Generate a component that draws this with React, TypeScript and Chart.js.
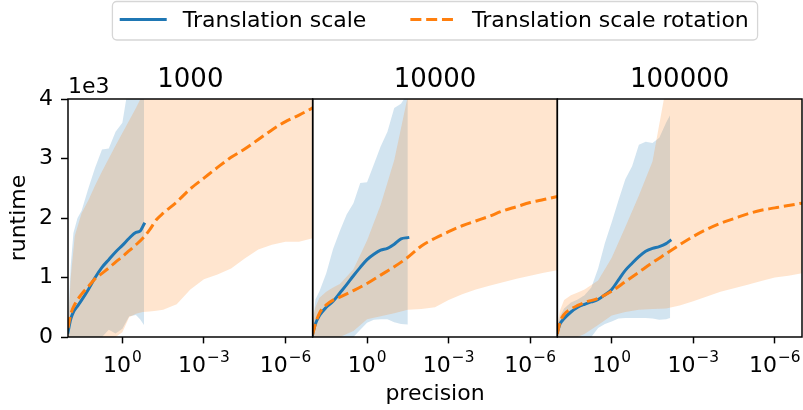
import React, { useEffect, useRef } from 'react';
import { Chart, registerables } from 'chart.js';

Chart.register(...registerables);

const FONT = 'DejaVu Sans';
const BLUE = '#1f77b4';
const ORANGE = '#ff7f0e';
const BLUE_BAND = 'rgba(31,119,180,0.2)';
const ORANGE_BAND = 'rgba(255,127,14,0.2)';

const panelTitles = ['1000', '10000', '100000'];
const seriesNames = ['Translation scale', 'Translation scale rotation'];
const yTickValues = [0, 1, 2, 3, 4];
const yRange = [0, 4];
const xTickExponents = [0, -3, -6];
const xExponentRange = [-7, 2];
const yAxisLabel = 'runtime';
const xAxisLabel = 'precision';
const yOffsetLabel = '1e3';

// ---- panel "1000" ----
const ts1LogPrecision = [2, 1.9, 1.8, 1.65, 1.5, 1.25, 1, 0.75, 0.5, 0.25, 0, -0.25, -0.5, -0.65, -0.8];
const ts1Mean = [0.08, 0.3, 0.42, 0.52, 0.62, 0.8, 1.0, 1.17, 1.3, 1.43, 1.54, 1.66, 1.76, 1.78, 1.9];
const ts1Low = [0, 0, 0, 0, 0, 0, 0, 0, 0.12, 0.06, 0.14, 0.35, 0.37, 0.3, 0.2];
const ts1High = [0.2, 1.2, 1.75, 2.0, 2.12, 2.5, 2.85, 3.15, 3.17, 3.45, 3.6, 4.3, 4.6, 4.7, 4.8];

const tsr1LogPrecision = [2, 1.9, 1.75, 1.5, 1.25, 1, 0.75, 0.5, 0.25, 0, -0.25, -0.5, -0.75, -1, -1.25, -1.5, -2, -2.5, -3, -3.5, -4, -4.5, -5, -5.5, -6, -6.5, -7];
const tsr1Mean = [0.15, 0.38, 0.55, 0.72, 0.85, 0.98, 1.07, 1.16, 1.26, 1.35, 1.45, 1.55, 1.66, 1.8, 1.97, 2.08, 2.27, 2.49, 2.67, 2.85, 3.02, 3.16, 3.32, 3.48, 3.62, 3.73, 3.85];
const tsr1Low = [0, 0, 0, 0, 0, 0, 0, 0, 0, 0.08, 0.33, 0.39, 0.42, 0.43, 0.44, 0.46, 0.55, 0.8, 0.97, 1.05, 1.15, 1.32, 1.47, 1.55, 1.6, 1.6, 1.66];
const tsr1High = [0.15, 1.0, 1.7, 2.08, 2.3, 2.55, 2.78, 3.0, 3.22, 3.43, 3.64, 3.85, 4.08, 4.3, 4.5, 4.6, 4.8, 5.0, 5.2, 5.4, 5.6, 5.8, 6.0, 6.2, 6.3, 6.4, 6.5];

// ---- panel "10000" ----
const ts2LogPrecision = [2, 1.9, 1.75, 1.5, 1.25, 1, 0.75, 0.5, 0.25, 0, -0.25, -0.5, -0.75, -1, -1.25, -1.5];
const ts2Mean = [0.05, 0.22, 0.36, 0.5, 0.6, 0.74, 0.88, 1.03, 1.17, 1.3, 1.39, 1.46, 1.49, 1.56, 1.65, 1.67];
const ts2Low = [0, 0, 0, 0, 0, 0, 0, 0, 0.12, 0.24, 0.29, 0.3, 0.3, 0.25, 0.22, 0.21];
const ts2High = [0.2, 0.63, 0.77, 1.07, 1.48, 1.78, 2.06, 2.25, 2.59, 2.6, 2.9, 3.2, 3.45, 3.85, 3.92, 4.1];

const tsr2LogPrecision = [2, 1.9, 1.75, 1.5, 1.25, 1, 0.5, 0, -0.5, -1, -1.5, -2, -2.5, -3, -3.5, -4, -4.5, -5, -5.5, -6, -6.5, -7];
const tsr2Mean = [0.04, 0.22, 0.4, 0.54, 0.62, 0.67, 0.78, 0.9, 1.04, 1.18, 1.34, 1.53, 1.66, 1.77, 1.87, 1.95, 2.03, 2.12, 2.19, 2.26, 2.31, 2.36];
const tsr2Low = [0, 0, 0, 0, 0, 0, 0.1, 0.3, 0.35, 0.4, 0.46, 0.47, 0.5, 0.62, 0.72, 0.8, 0.86, 0.92, 0.98, 1.03, 1.08, 1.12];
const tsr2High = [0.3, 0.5, 0.66, 0.76, 0.83, 0.89, 1.14, 1.62, 2.22, 2.97, 4.05, 4.6, 4.8, 5.0, 5.2, 5.4, 5.6, 5.8, 6.0, 6.2, 6.4, 6.6];

// ---- panel "100000" ----
const ts3LogPrecision = [2, 1.9, 1.75, 1.5, 1.25, 1, 0.75, 0.5, 0.25, 0, -0.25, -0.5, -0.75, -1, -1.25, -1.5, -1.75, -2, -2.15];
const ts3Mean = [0.08, 0.22, 0.31, 0.42, 0.5, 0.55, 0.59, 0.63, 0.71, 0.8, 0.96, 1.12, 1.24, 1.35, 1.44, 1.49, 1.52, 1.57, 1.62];
const ts3Low = [0, 0, 0, 0, 0, 0, 0, 0.15, 0.22, 0.26, 0.31, 0.32, 0.32, 0.32, 0.32, 0.31, 0.29, 0.3, 0.32];
const ts3High = [0.15, 0.35, 0.48, 0.58, 0.63, 0.7, 0.83, 1.15, 1.58, 1.93, 2.3, 2.65, 2.87, 3.23, 3.28, 3.26, 3.35, 3.6, 3.73];

const tsr3LogPrecision = [2, 1.9, 1.75, 1.5, 1.25, 1, 0.5, 0, -0.5, -1, -1.5, -2, -2.5, -3, -3.5, -4, -4.5, -5, -5.5, -6, -6.5, -7];
const tsr3Mean = [0.05, 0.25, 0.38, 0.47, 0.53, 0.58, 0.65, 0.77, 0.93, 1.09, 1.25, 1.4, 1.55, 1.69, 1.81, 1.91, 1.99, 2.07, 2.13, 2.17, 2.21, 2.25];
const tsr3Low = [0, 0, 0, 0, 0, 0.05, 0.2, 0.36, 0.42, 0.46, 0.47, 0.48, 0.53, 0.6, 0.68, 0.76, 0.82, 0.88, 0.94, 1.0, 1.03, 1.07];
const tsr3High = [0.2, 0.45, 0.62, 0.7, 0.75, 0.8, 0.95, 1.33, 1.85, 2.38, 2.95, 4.2, 4.6, 4.8, 5.0, 5.2, 5.4, 5.6, 5.8, 6.0, 6.2, 6.4];

const panels = [
  {
    ts: { log: ts1LogPrecision, mean: ts1Mean, low: ts1Low, high: ts1High },
    tsr: { log: tsr1LogPrecision, mean: tsr1Mean, low: tsr1Low, high: tsr1High },
  },
  {
    ts: { log: ts2LogPrecision, mean: ts2Mean, low: ts2Low, high: ts2High },
    tsr: { log: tsr2LogPrecision, mean: tsr2Mean, low: tsr2Low, high: tsr2High },
  },
  {
    ts: { log: ts3LogPrecision, mean: ts3Mean, low: ts3Low, high: ts3High },
    tsr: { log: tsr3LogPrecision, mean: tsr3Mean, low: tsr3Low, high: tsr3High },
  },
];

const FS = 22;
const TITLE_FS = 26;
const LW = 3;
const DASH = [11, 4.8];
const SPINE = 1.47;

const pts = (logs: number[], vals: number[]) => logs.map((l, i) => ({ x: Math.pow(10, l), y: vals[i] }));

function buildDatasets() {
  const ds: any[] = [];
  panels.forEach((p, i) => {
    const axis = 'x' + (i + 1);
    ds.push(
      {
        label: seriesNames[1], data: pts(p.tsr.log, p.tsr.mean), xAxisID: axis, yAxisID: 'y',
        borderColor: ORANGE, borderWidth: LW, borderDash: DASH, pointRadius: 0, fill: false, order: 0,
        cubicInterpolationMode: 'monotone', borderJoinStyle: 'round',
      },
      {
        label: seriesNames[0], data: pts(p.ts.log, p.ts.mean), xAxisID: axis, yAxisID: 'y',
        borderColor: BLUE, borderWidth: LW, pointRadius: 0, fill: false, order: 1,
        cubicInterpolationMode: 'monotone', borderJoinStyle: 'round', borderCapStyle: 'square',
      },
      {
        label: seriesNames[1] + ' upper', data: pts(p.tsr.log, p.tsr.high), xAxisID: axis, yAxisID: 'y',
        borderColor: 'rgba(0,0,0,0)', borderWidth: 0, backgroundColor: ORANGE_BAND, pointRadius: 0, fill: '+1', order: 2,
      },
      {
        label: seriesNames[1] + ' lower', data: pts(p.tsr.log, p.tsr.low), xAxisID: axis, yAxisID: 'y',
        borderColor: 'rgba(0,0,0,0)', borderWidth: 0, pointRadius: 0, fill: false, order: 2,
      },
      {
        label: seriesNames[0] + ' upper', data: pts(p.ts.log, p.ts.high), xAxisID: axis, yAxisID: 'y',
        borderColor: 'rgba(0,0,0,0)', borderWidth: 0, backgroundColor: BLUE_BAND, pointRadius: 0, fill: '+1', order: 3,
      },
      {
        label: seriesNames[0] + ' lower', data: pts(p.ts.log, p.ts.low), xAxisID: axis, yAxisID: 'y',
        borderColor: 'rgba(0,0,0,0)', borderWidth: 0, pointRadius: 0, fill: false, order: 3,
      },
    );
  });
  return ds;
}

const xScale = (i: number) => ({
  type: 'logarithmic',
  position: 'bottom',
  stack: 'panels',
  stackWeight: 1,
  weight: i,
  reverse: true,
  min: Math.pow(10, xExponentRange[0]),
  max: Math.pow(10, xExponentRange[1]),
  afterBuildTicks: (s: any) => {
    s.ticks = xTickExponents.map((e) => ({ value: Math.pow(10, e) }));
  },
  afterFit: (s: any) => {
    s.height = 73;
  },
  ticks: { callback: () => '', autoSkip: false, maxRotation: 0, minRotation: 0, padding: 0 },
  grid: { display: true, drawOnChartArea: false, drawTicks: true, tickLength: 6.4, tickWidth: SPINE, tickColor: '#000' },
  border: { display: false },
  title: {
    display: i === 1, text: xAxisLabel, color: '#000',
    font: { family: FONT, size: FS }, padding: { top: 0, bottom: 3 },
  },
});

const decorPlugin = {
  id: 'decor',
  afterDatasetsDraw(chart: any) {
    const { ctx, chartArea } = chart;
    const ids = ['x1', 'x2', 'x3'];
    ctx.save();
    // frames
    ctx.strokeStyle = '#000';
    ctx.lineWidth = SPINE;
    ctx.setLineDash([]);
    ids.forEach((id) => {
      const s = chart.scales[id];
      ctx.strokeRect(s.left, chartArea.top, s.right - s.left, chartArea.bottom - chartArea.top);
    });
    ctx.fillStyle = '#000';
    ctx.textBaseline = 'alphabetic';
    // panel titles
    ctx.font = `${TITLE_FS}px "${FONT}"`;
    ctx.textAlign = 'center';
    ids.forEach((id, i) => {
      const s = chart.scales[id];
      ctx.fillText(panelTitles[i], (s.left + s.right) / 2, chartArea.top - 12);
    });
    // offset text
    ctx.font = `${FS}px "${FONT}"`;
    ctx.textAlign = 'left';
    ctx.fillText(yOffsetLabel, chartArea.left, chartArea.top - 6);
    // x tick labels 10^e
    const expFs = FS * 0.7;
    ids.forEach((id) => {
      const s = chart.scales[id];
      s.ticks.forEach((t: any) => {
        const x = s.getPixelForValue(t.value);
        const e = Math.round(Math.log10(t.value));
        const expStr = e < 0 ? '\u2212' + String(-e) : String(e);
        ctx.font = `${FS}px "${FONT}"`;
        const wb = ctx.measureText('10').width;
        ctx.font = `${expFs}px "${FONT}"`;
        const we = ctx.measureText(expStr).width;
        const total = wb + 1 + we;
        const start = x - total / 2;
        ctx.textAlign = 'left';
        ctx.font = `${FS}px "${FONT}"`;
        ctx.fillText('10', start, s.top + 34.7);
        ctx.font = `${expFs}px "${FONT}"`;
        ctx.fillText(expStr, start + wb + 1, s.top + 24.7);
      });
    });
    // legend
    ctx.font = `${FS}px "${FONT}"`;
    const w1 = ctx.measureText(seriesNames[0]).width;
    const w2 = ctx.measureText(seriesNames[1]).width;
    const pad = 0.4 * FS, handle = 2 * FS, hpad = 0.8 * FS, col = 2 * FS;
    const totalW = pad + handle + hpad + w1 + col + handle + hpad + w2 + pad;
    const cx = (chartArea.left + chartArea.right) / 2;
    const left = cx - totalW / 2;
    const top = 1.5;
    const h = 38.5;
    const r = 4.4;
    ctx.beginPath();
    ctx.moveTo(left + r, top);
    ctx.lineTo(left + totalW - r, top);
    ctx.arcTo(left + totalW, top, left + totalW, top + r, r);
    ctx.lineTo(left + totalW, top + h - r);
    ctx.arcTo(left + totalW, top + h, left + totalW - r, top + h, r);
    ctx.lineTo(left + r, top + h);
    ctx.arcTo(left, top + h, left, top + h - r, r);
    ctx.lineTo(left, top + r);
    ctx.arcTo(left, top, left + r, top, r);
    ctx.closePath();
    ctx.fillStyle = 'rgba(255,255,255,0.8)';
    ctx.fill();
    ctx.strokeStyle = '#d6d6d6';
    ctx.lineWidth = 1.3;
    ctx.stroke();
    const ly = top + 18;
    const hx1 = left + pad;
    ctx.lineWidth = LW;
    ctx.strokeStyle = BLUE;
    ctx.lineCap = 'square';
    ctx.beginPath();
    ctx.moveTo(hx1, ly);
    ctx.lineTo(hx1 + handle, ly);
    ctx.stroke();
    ctx.fillStyle = '#000';
    ctx.textAlign = 'left';
    ctx.fillText(seriesNames[0], hx1 + handle + hpad, top + 25.5);
    const hx2 = hx1 + handle + hpad + w1 + col;
    ctx.lineCap = 'butt';
    ctx.strokeStyle = ORANGE;
    ctx.setLineDash(DASH);
    ctx.beginPath();
    ctx.moveTo(hx2, ly);
    ctx.lineTo(hx2 + handle, ly);
    ctx.stroke();
    ctx.setLineDash([]);
    ctx.fillText(seriesNames[1], hx2 + handle + hpad, top + 25.5);
    ctx.restore();
  },
};

export default function App() {
  const canvasRef = useRef<HTMLCanvasElement | null>(null);

  useEffect(() => {
    const canvas = canvasRef.current;
    if (!canvas) return;
    const chart = new Chart(canvas, {
      type: 'line',
      data: { datasets: buildDatasets() },
      options: {
        animation: false,
        responsive: false,
        devicePixelRatio: 1,
        parsing: true,
        layout: { padding: { top: 99, right: 1, left: 0, bottom: 0 } },
        plugins: {
          legend: { display: false },
          tooltip: { enabled: false },
          title: { display: false },
        },
        events: [],
        scales: {
          x1: xScale(0),
          x2: xScale(1),
          x3: xScale(2),
          y: {
            type: 'linear',
            position: 'left',
            min: yRange[0],
            max: yRange[1],
            afterBuildTicks: (s: any) => {
              s.ticks = yTickValues.map((v) => ({ value: v }));
            },
            afterFit: (s: any) => {
              s.width = 68;
            },
            ticks: {
              color: '#000',
              font: { family: FONT, size: FS },
              padding: 8,
              callback: (v: any) => String(v),
            },
            grid: { display: true, drawOnChartArea: false, drawTicks: true, tickLength: 7, tickWidth: SPINE, tickColor: '#000' },
            border: { display: false },
            title: {
              display: true, text: yAxisLabel, color: '#000',
              font: { family: FONT, size: FS }, padding: { top: 6, bottom: 0 },
            },
          },
        } as any,
      },
      plugins: [decorPlugin],
    } as any);
    return () => chart.destroy();
  }, []);

  return (
    <div style={{ position: 'absolute', left: 0, top: 0, width: 803, height: 410, background: '#fff' }}>
      <canvas ref={canvasRef} width={803} height={410} style={{ width: 803, height: 410, display: 'block' }} />
    </div>
  );
}
